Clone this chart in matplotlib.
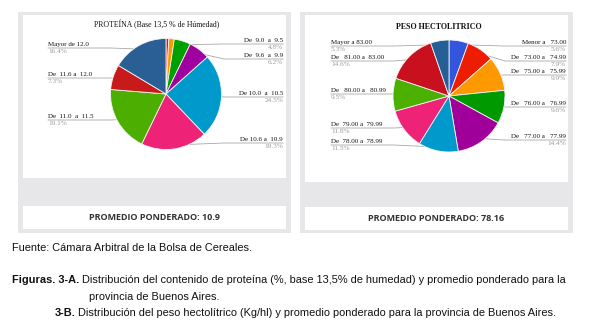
import numpy as np
import matplotlib
matplotlib.use('Agg')
import matplotlib.pyplot as plt
from matplotlib.patches import Rectangle

# ---- data ----
prot_labels = ['', '', 'De  9.0  a  9.5', 'De  9.6  a  9.9', 'De 10.0  a  10.5',
               'De 10.6 a  10.9', 'De  11.0  a  11.5', 'De  11.6 a  12.0', 'Mayor de 12.0']
prot_values = [0.8, 1.6, 4.8, 6.2, 24.5, 19.3, 19.1, 7.3, 16.4]
prot_colors = ['#ee1111', '#ff9900', '#00a000', '#a000a0', '#0099cc',
               '#ee2277', '#4caf00', '#c81a1a', '#2a5f95']
prot_mean = 10.9

hecto_labels = ['Menor a   73.00', 'De   73.00 a   74.99', 'De   75.00 a   75.99',
                'De   76.00 a   76.99', 'De   77.00 a   77.99', 'De  78.00 a  78.99',
                'De  79.00 a  79.99', 'De   80.00 a   80.99', 'De   81.00 a  83.00',
                'Mayor a 83.00']
hecto_values = [5.6, 7.9, 9.9, 9.6, 14.4, 11.5, 11.8, 9.5, 14.6, 5.3]
hecto_colors = ['#3355dd', '#ee1c00', '#ff9900', '#009900', '#a00099',
                '#0099cc', '#ee2277', '#4cb000', '#c8101e', '#255f95']
hecto_mean = 78.16

# label line rows (pixel y) per slice, None = no label
prot_rows = [None, None, 44, 59, 97, 143, 120, 78, 48]
hecto_rows = [46, 61, 75, 107, 140, 145, 128, 94, 61, 46]

W, H = 589, 332
fig = plt.figure(figsize=(W / 100, H / 100), dpi=100)
bg = fig.add_axes([0, 0, 1, 1])
bg.set_xlim(0, W)
bg.set_ylim(H, 0)
bg.axis('off')

grey = '#e7e7e9'
serif = 'Liberation Serif'


def panel(x0, x1, y_top, inner_bottom, box_top, box_bottom, outer_bottom):
    bg.add_patch(Rectangle((x0, y_top), x1 - x0, outer_bottom - y_top, color=grey, lw=0))
    bg.add_patch(Rectangle((x0 + 5, y_top + 3), x1 - x0 - 10, inner_bottom - y_top - 3,
                           color='white', lw=0))
    bg.add_patch(Rectangle((x0 + 5, box_top), x1 - x0 - 10, box_bottom - box_top,
                           color='white', lw=0))


panel(18, 291, 12, 178, 206, 229, 233)
panel(300, 573, 12, 182, 207, 230, 233)


def draw_pie(cx, cy, r, values, colors, labels, rows, xl, xr, elbow_l, elbow_r):
    ax = fig.add_axes([(cx - r) / W, 1 - (cy + r) / H, 2 * r / W, 2 * r / H])
    wedges, _ = ax.pie(values, colors=colors, startangle=90, counterclock=False,
                       wedgeprops=dict(edgecolor='#f4f4f4', linewidth=0.6))
    ax.set_xlim(-1, 1)
    ax.set_ylim(-1, 1)
    ax.set_aspect('equal')
    ax.axis('off')
    to_bg = ax.transData + bg.transData.inverted()
    total = sum(values)
    for w, lab, row, v in zip(wedges, labels, rows, values):
        if row is None:
            continue
        ang = np.deg2rad((w.theta1 + w.theta2) / 2)
        px, py = to_bg.transform((0.93 * np.cos(ang), 0.93 * np.sin(ang)))
        right = px > cx
        if right:
            xs = [px, elbow_r, xr]
            tx, ha = xr, 'right'
        else:
            xs = [px, elbow_l, xl]
            tx, ha = xl, 'left'
        bg.plot(xs, [py, row, row], color='#a8a8a8', lw=0.6, zorder=3)
        bg.plot([px], [py], 's', ms=1.2, color='#bbbbbb', mec='none', zorder=4)
        bg.text(tx, row - 0.8, lab, ha=ha, va='bottom', fontsize=5, family=serif,
                color='#111111')
        bg.text(tx, row + 0.8, '%.1f%%' % (100 * v / total), ha=ha, va='top',
                fontsize=5.2, family=serif, color='#9a9a9a')


draw_pie(166, 94, 55.5, prot_values, prot_colors, prot_labels, prot_rows,
         48, 283, 110, 224)
draw_pie(449, 96, 56, hecto_values, hecto_colors, hecto_labels, hecto_rows,
         331, 566, 394, 505)

bg.text(157, 25, 'PROTEÍNA (Base 13,5 % de Húmedad)', ha='center', va='center',
        fontsize=5.6, family=serif, color='#111111')
bg.text(439, 27, 'PESO HECTOLITRICO', ha='center', va='center', fontsize=5.8,
        family=serif, weight='bold', color='#111111')

bg.text(154, 218, 'PROMEDIO PONDERADO: %.1f' % prot_mean, ha='center', va='center',
        fontsize=6.5, family='Open Sans', weight='bold', color='#333333')
bg.text(436, 218.5, 'PROMEDIO PONDERADO: %.2f' % hecto_mean, ha='center', va='center',
        fontsize=6.5, family='Open Sans', weight='bold', color='#333333')

cap = ['Liberation Sans']
fs = 7.9
bg.text(12, 248, 'Fuente: Cámara Arbitral de la Bolsa de Cereales.', ha='left',
        va='center', fontsize=fs, family=cap, color='#111111')

renderer = fig.canvas.get_renderer()


def mixed(x, y, bold, normal):
    t = bg.text(x, y, bold, ha='left', va='center', fontsize=fs, family=cap,
                weight='bold', color='#111111')
    bb = t.get_window_extent(renderer).transformed(bg.transData.inverted())
    bg.text(bb.x1 + 2.5, y, normal, ha='left', va='center', fontsize=fs, family=cap,
            color='#111111')


mixed(12, 280, 'Figuras. 3-A.', 'Distribución del contenido de proteína (%, base 13,5% de humedad) y promedio ponderado para la')
bg.text(89, 297, 'provincia de Buenos Aires.', ha='left', va='center', fontsize=fs,
        family=cap, color='#111111')
mixed(55, 313, '3-B.', 'Distribución del peso hectolítrico (Kg/hl) y promedio ponderado para la provincia de Buenos Aires.')

fig.savefig('out.png', dpi=100)
